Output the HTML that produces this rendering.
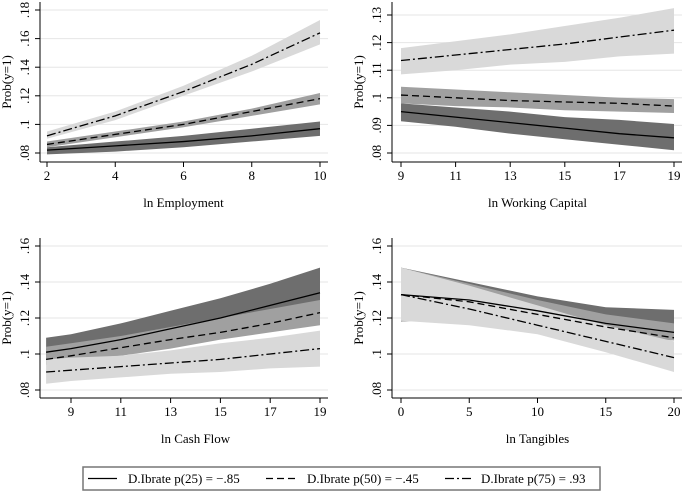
<!DOCTYPE html>
<html><head><meta charset="utf-8"><style>
html,body{margin:0;padding:0;background:#fff;}
svg{display:block;font-family:"Liberation Serif",serif;}
</style></head><body>
<svg id="c" width="685" height="493" viewBox="0 0 685 493" xmlns="http://www.w3.org/2000/svg"></svg>
<script>
// ---- data ----
const empX=[2,4,6,8,10];
const empP25=[.082,.085,.088,.092,.097], empP25Lo=[.079,.081,.084,.088,.092], empP25Hi=[.084,.088,.092,.097,.102];
const empP50=[.086,.093,.100,.109,.118], empP50Lo=[.084,.091,.098,.106,.114], empP50Hi=[.088,.095,.102,.111,.122];
const empP75=[.092,.106,.123,.142,.164], empP75Lo=[.090,.103,.120,.137,.156], empP75Hi=[.095,.109,.127,.148,.173];

const wcX=[9,11,13,15,17,19];
const wcP25=[.095,.093,.091,.089,.087,.0855], wcP25Lo=[.0915,.0895,.087,.085,.083,.081], wcP25Hi=[.098,.0965,.095,.093,.092,.0905];
const wcP50=[.101,.100,.099,.0985,.098,.097], wcP50Lo=[.098,.097,.0965,.0955,.095,.0945], wcP50Hi=[.104,.103,.102,.101,.1,.0995];
const wcP75=[.1135,.1155,.1175,.1195,.122,.1245], wcP75Lo=[.1085,.110,.112,.113,.115,.116], wcP75Hi=[.118,.1205,.123,.126,.129,.1325];

const cfX=[8,9,11,13,15,17,19];
const cfP25=[.101,.103,.108,.114,.120,.127,.134], cfP25Lo=[.094,.096,.100,.105,.110,.115,.120], cfP25Hi=[.109,.111,.117,.124,.131,.139,.148];
const cfP50=[.097,.099,.1035,.108,.112,.117,.123], cfP50Lo=[.096,.097,.099,.103,.108,.112,.116], cfP50Hi=[.104,.106,.110,.115,.120,.125,.130];
const cfP75=[.090,.091,.093,.095,.097,.100,.103], cfP75Lo=[.0835,.085,.087,.089,.090,.092,.093], cfP75Hi=[.097,.098,.099,.102,.106,.109,.113];

const tgX=[0,5,10,15,20];
const tgP25=[.133,.130,.124,.117,.112], tgP25Lo=[.118,.121,.119,.114,.112], tgP25Hi=[.148,.140,.132,.126,.1245];
const tgP50=[.133,.129,.122,.115,.109], tgP50Lo=[.118,.120,.116,.110,.1075], tgP50Hi=[.148,.139,.130,.122,.117];
const tgP75=[.133,.125,.116,.107,.098], tgP75Lo=[.1185,.116,.111,.101,.090], tgP75Hi=[.148,.138,.127,.116,.107];

const empXTicks=[2,4,6,8,10], empYTicks=[.08,.1,.12,.14,.16,.18];
const wcXTicks=[9,11,13,15,17,19], wcYTicks=[.08,.09,.1,.11,.12,.13];
const cfXTicks=[9,11,13,15,17,19], cfYTicks=[.08,.1,.12,.14,.16];
const tgXTicks=[0,5,10,15,20], tgYTicks=[.08,.1,.12,.14,.16];
const legendLabels=["D.Ibrate p(25) = \u2212.85","D.Ibrate p(50) = \u2212.45","D.Ibrate p(75) = .93"];

const svg=document.getElementById('c');
const NS='http://www.w3.org/2000/svg';
function mk(tag,attrs,parent){const e=document.createElementNS(NS,tag);for(const k in attrs)e.setAttribute(k,attrs[k]);(parent||svg).appendChild(e);return e;}
function fmt(v){let s=(+v.toFixed(3)).toString();if(s.startsWith('0.'))s=s.slice(1);return s;}

function panel(cfg){
  const g=mk('g',{});
  
  
  const sx=v=>cfg.px0+(v-cfg.xv0)/(cfg.xv1-cfg.xv0)*(cfg.px1-cfg.px0);
  const sy=v=>cfg.py0+(v-cfg.yv0)/(cfg.yv1-cfg.yv0)*(cfg.py1-cfg.py0);
  cfg.yt.forEach(t=>{const l=mk('line',{x1:cfg.axX,x2:cfg.right,y1:sy(t),y2:sy(t),stroke:'#e6e6e6','stroke-width':1},g);
    });
  const bands=[[cfg.p25lo,cfg.p25hi,'#6e6e6e','band-p25'],[cfg.p50lo,cfg.p50hi,'#a0a0a0','band-p50'],[cfg.p75lo,cfg.p75hi,'#d9d9d9','band-p75']];
  bands.forEach(b=>{
    let pts=cfg.x.map((x,i)=>sx(x)+','+sy(b[1][i]));
    pts=pts.concat(cfg.x.map((x,i)=>sx(x)+','+sy(b[0][i])).reverse());
    const p=mk('polygon',{points:pts.join(' '),fill:b[2],stroke:'none'},g);
    
  });
  const lines=[[cfg.p25,'none','line-p25'],[cfg.p50,'7 4','line-p50'],[cfg.p75,'9 3 2 3','line-p75']];
  lines.forEach(l=>{
    const p=mk('polyline',{points:cfg.x.map((x,i)=>sx(x)+','+sy(l[0][i])).join(' '),fill:'none',stroke:'#000','stroke-width':1.3},g);
    if(l[1]!=='none')p.setAttribute('stroke-dasharray',l[1]);
    
  });
  const ya=mk('line',{x1:cfg.axX,x2:cfg.axX,y1:cfg.top,y2:cfg.axY,stroke:'#000','stroke-width':1},g);
  
  const xa=mk('line',{x1:cfg.axX,x2:cfg.right,y1:cfg.axY,y2:cfg.axY,stroke:'#000','stroke-width':1},g);
  
  cfg.xt.forEach(t=>{
    mk('line',{x1:sx(t),x2:sx(t),y1:cfg.axY,y2:cfg.axY+5,stroke:'#000'},g);
    const tx=mk('text',{x:sx(t),y:cfg.axY+18,'text-anchor':'middle','font-size':13},g);
    tx.textContent=t;
    
  });
  cfg.yt.forEach(t=>{
    mk('line',{x1:cfg.axX-5,x2:cfg.axX,y1:sy(t),y2:sy(t),stroke:'#000'},g);
    const tx=mk('text',{x:0,y:0,'text-anchor':'middle','font-size':13,transform:`translate(${cfg.axX-11},${sy(t)}) rotate(-90)`},g);
    tx.textContent=fmt(t);
    
  });
  const yt=mk('text',{x:0,y:0,'text-anchor':'middle','font-size':13,transform:`translate(${cfg.axX-29},${(cfg.top+cfg.axY)/2}) rotate(-90)`},g);
  yt.textContent='Prob(y=1)';
  
  const xt=mk('text',{x:(cfg.px0+cfg.px1)/2,y:cfg.axY+45,'text-anchor':'middle','font-size':13},g);
  xt.textContent=cfg.title;
  
}

panel({name:'panel-employment',title:'ln Employment',x:empX,p25:empP25,p25lo:empP25Lo,p25hi:empP25Hi,p50:empP50,p50lo:empP50Lo,p50hi:empP50Hi,p75:empP75,p75lo:empP75Lo,p75hi:empP75Hi,
  xt:empXTicks,yt:empYTicks,xv0:2,xv1:10,px0:47,px1:320,yv0:.08,yv1:.18,py0:153,py1:10,axX:40,axY:162,top:2,right:328});
panel({name:'panel-working-capital',title:'ln Working Capital',x:wcX,p25:wcP25,p25lo:wcP25Lo,p25hi:wcP25Hi,p50:wcP50,p50lo:wcP50Lo,p50hi:wcP50Hi,p75:wcP75,p75lo:wcP75Lo,p75hi:wcP75Hi,
  xt:wcXTicks,yt:wcYTicks,xv0:9,xv1:19,px0:401,px1:674,yv0:.08,yv1:.13,py0:153,py1:15,axX:392,axY:162,top:2,right:682});
panel({name:'panel-cash-flow',title:'ln Cash Flow',x:cfX,p25:cfP25,p25lo:cfP25Lo,p25hi:cfP25Hi,p50:cfP50,p50lo:cfP50Lo,p50hi:cfP50Hi,p75:cfP75,p75lo:cfP75Lo,p75hi:cfP75Hi,
  xt:cfXTicks,yt:cfYTicks,xv0:9,xv1:19,px0:71,px1:320,yv0:.08,yv1:.16,py0:390,py1:246,axX:40,axY:398,top:238,right:328});
panel({name:'panel-tangibles',title:'ln Tangibles',x:tgX,p25:tgP25,p25lo:tgP25Lo,p25hi:tgP25Hi,p50:tgP50,p50lo:tgP50Lo,p50hi:tgP50Hi,p75:tgP75,p75lo:tgP75Lo,p75hi:tgP75Hi,
  xt:tgXTicks,yt:tgYTicks,xv0:0,xv1:20,px0:401,px1:674,yv0:.08,yv1:.16,py0:390,py1:246,axX:392,axY:398,top:238,right:682});

// legend
const lg=mk('g',{});


mk('rect',{x:83,y:467,width:517,height:23,fill:'#fff',stroke:'#777','stroke-width':1.5},lg);
const sampleX=[88,266,445], textX=[128,307,481], dashes=['none','7 4','9 3 2 3'];
legendLabels.forEach((s,i)=>{
  const l=mk('line',{x1:sampleX[i],x2:sampleX[i]+29,y1:478.5,y2:478.5,stroke:'#000','stroke-width':1.3},lg);
  if(dashes[i]!=='none')l.setAttribute('stroke-dasharray',dashes[i]);
  
  const t=mk('text',{x:textX[i],y:483,'font-size':13},lg);
  t.textContent=s;
  
});
</script>
</body></html>
